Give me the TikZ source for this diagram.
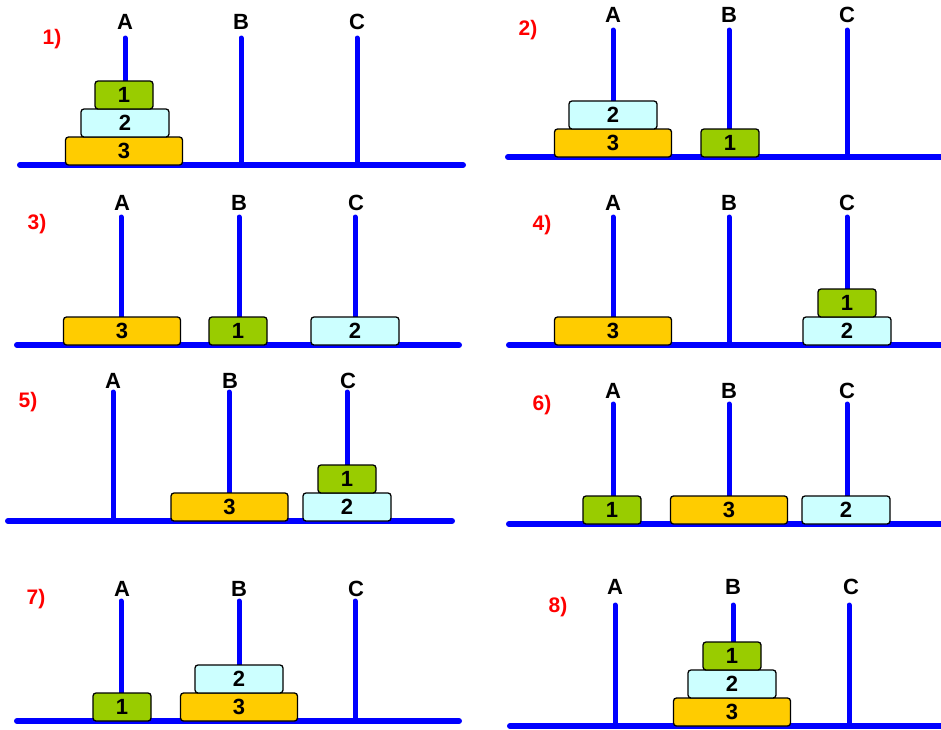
\documentclass[tikz,border=0pt]{standalone}
\usepackage{fontspec}
\setmainfont{Liberation Sans}
\definecolor{pegblue}{HTML}{0000FF}
\definecolor{dgreen}{HTML}{99CC00}
\definecolor{dcyan}{HTML}{CCFFFF}
\definecolor{dorange}{HTML}{FFCC00}
\definecolor{numred}{HTML}{FF0000}
\tikzset{
  baseline/.style={draw=pegblue, line width=6pt, line cap=round},
  pegline/.style={draw=pegblue, line width=5pt, line cap=round},
  peglabel/.style={font=\fontsize{22}{22}\selectfont\bfseries, inner sep=0pt},
  steplabel/.style={font=\fontsize{21}{21}\selectfont\bfseries, text=numred, inner sep=0pt},
  disk/.style={draw=black, line width=1.3pt, rounded corners=3pt, minimum height=28pt, inner sep=0pt,
    font=\fontsize{22}{22}\selectfont\bfseries},
  diskone/.style={disk, fill=dgreen, minimum width=58pt},
  disktwo/.style={disk, fill=dcyan, minimum width=88pt},
  diskthree/.style={disk, fill=dorange, minimum width=117pt}
}
\begin{document}
\begin{tikzpicture}[x=1pt, y=-1pt]
\useasboundingbox (0,0) rectangle (941,729);
% ---------------- Panel 1
\coordinate (p1L) at (20,165); \coordinate (p1R) at (463,165);
\coordinate (p1At) at (125,38); \coordinate (p1Ab) at (125,165);
\coordinate (p1Bt) at (241,38); \coordinate (p1Bb) at (241,165);
\coordinate (p1Ct) at (357,38); \coordinate (p1Cb) at (357,165);
\draw[baseline] (p1L) -- (p1R);
\draw[pegline] (p1At) -- (p1Ab); \draw[pegline] (p1Bt) -- (p1Bb); \draw[pegline] (p1Ct) -- (p1Cb);
\node[peglabel] (p1a) at (125,22) {A};
\node[peglabel] (p1b) at (241,22) {B};
\node[peglabel] (p1c) at (357,22) {C};
\node[steplabel] (p1n) at (52,39) {1)};
\node[diskthree] (p1d3) at (124,151) {3};
\node[disktwo] (p1d2) at (125,123) {2};
\node[diskone] (p1d1) at (124,95) {1};
% ---------------- Panel 2
\coordinate (p2L) at (508,157); \coordinate (p2R) at (945,157);
\coordinate (p2At) at (613,30); \coordinate (p2Ab) at (613,157);
\coordinate (p2Bt) at (729,30); \coordinate (p2Bb) at (729,157);
\coordinate (p2Ct) at (847,30); \coordinate (p2Cb) at (847,157);
\draw[baseline] (p2L) -- (p2R);
\draw[pegline] (p2At) -- (p2Ab); \draw[pegline] (p2Bt) -- (p2Bb); \draw[pegline] (p2Ct) -- (p2Cb);
\node[peglabel] (p2a) at (613,15) {A};
\node[peglabel] (p2b) at (729,15) {B};
\node[peglabel] (p2c) at (847,15) {C};
\node[steplabel] (p2n) at (528,30) {2)};
\node[diskthree] (p2d3) at (613,143) {3};
\node[disktwo] (p2d2) at (613,115) {2};
\node[diskone] (p2d1) at (730,143) {1};
% ---------------- Panel 3
\coordinate (p3L) at (17,345); \coordinate (p3R) at (459,345);
\coordinate (p3At) at (121,217); \coordinate (p3Ab) at (121,345);
\coordinate (p3Bt) at (239,217); \coordinate (p3Bb) at (239,345);
\coordinate (p3Ct) at (355,217); \coordinate (p3Cb) at (355,345);
\draw[baseline] (p3L) -- (p3R);
\draw[pegline] (p3At) -- (p3Ab); \draw[pegline] (p3Bt) -- (p3Bb); \draw[pegline] (p3Ct) -- (p3Cb);
\node[peglabel] (p3a) at (122,203) {A};
\node[peglabel] (p3b) at (239,203) {B};
\node[peglabel] (p3c) at (356,203) {C};
\node[steplabel] (p3n) at (37,224) {3)};
\node[diskthree] (p3d3) at (122,331) {3};
\node[diskone] (p3d1) at (238,331) {1};
\node[disktwo] (p3d2) at (355,331) {2};
% ---------------- Panel 4
\coordinate (p4L) at (509,345); \coordinate (p4R) at (945,345);
\coordinate (p4At) at (613,217); \coordinate (p4Ab) at (613,345);
\coordinate (p4Bt) at (729,217); \coordinate (p4Bb) at (729,345);
\coordinate (p4Ct) at (847,217); \coordinate (p4Cb) at (847,345);
\draw[baseline] (p4L) -- (p4R);
\draw[pegline] (p4At) -- (p4Ab); \draw[pegline] (p4Bt) -- (p4Bb); \draw[pegline] (p4Ct) -- (p4Cb);
\node[peglabel] (p4a) at (613,203) {A};
\node[peglabel] (p4b) at (729,203) {B};
\node[peglabel] (p4c) at (847,203) {C};
\node[steplabel] (p4n) at (542,225) {4)};
\node[diskthree] (p4d3) at (613,331) {3};
\node[disktwo] (p4d2) at (847,331) {2};
\node[diskone] (p4d1) at (847,303) {1};
% ---------------- Panel 5
\coordinate (p5L) at (8,521); \coordinate (p5R) at (452,521);
\coordinate (p5At) at (113,392); \coordinate (p5Ab) at (113,521);
\coordinate (p5Bt) at (229,392); \coordinate (p5Bb) at (229,521);
\coordinate (p5Ct) at (347,392); \coordinate (p5Cb) at (347,521);
\draw[baseline] (p5L) -- (p5R);
\draw[pegline] (p5At) -- (p5Ab); \draw[pegline] (p5Bt) -- (p5Bb); \draw[pegline] (p5Ct) -- (p5Cb);
\node[peglabel] (p5a) at (113,381) {A};
\node[peglabel] (p5b) at (230,381) {B};
\node[peglabel] (p5c) at (348,381) {C};
\node[steplabel] (p5n) at (28,402) {5)};
\node[diskthree] (p5d3) at (229.5,507) {3};
\node[disktwo] (p5d2) at (347,507) {2};
\node[diskone] (p5d1) at (347,479) {1};
% ---------------- Panel 6
\coordinate (p6L) at (509,524); \coordinate (p6R) at (945,524);
\coordinate (p6At) at (613,404); \coordinate (p6Ab) at (613,524);
\coordinate (p6Bt) at (729,404); \coordinate (p6Bb) at (729,524);
\coordinate (p6Ct) at (847,404); \coordinate (p6Cb) at (847,524);
\draw[baseline] (p6L) -- (p6R);
\draw[pegline] (p6At) -- (p6Ab); \draw[pegline] (p6Bt) -- (p6Bb); \draw[pegline] (p6Ct) -- (p6Cb);
\node[peglabel] (p6a) at (613,391) {A};
\node[peglabel] (p6b) at (729,391) {B};
\node[peglabel] (p6c) at (847,391) {C};
\node[steplabel] (p6n) at (542,405) {6)};
\node[diskone] (p6d1) at (612,510) {1};
\node[diskthree] (p6d3) at (729,510) {3};
\node[disktwo] (p6d2) at (846,510) {2};
% ---------------- Panel 7
\coordinate (p7L) at (17,721); \coordinate (p7R) at (459,721);
\coordinate (p7At) at (121,601); \coordinate (p7Ab) at (121,721);
\coordinate (p7Bt) at (239,601); \coordinate (p7Bb) at (239,721);
\coordinate (p7Ct) at (355,601); \coordinate (p7Cb) at (355,721);
\draw[baseline] (p7L) -- (p7R);
\draw[pegline] (p7At) -- (p7Ab); \draw[pegline] (p7Bt) -- (p7Bb); \draw[pegline] (p7Ct) -- (p7Cb);
\node[peglabel] (p7a) at (122,589) {A};
\node[peglabel] (p7b) at (239,589) {B};
\node[peglabel] (p7c) at (356,589) {C};
\node[steplabel] (p7n) at (36,599) {7)};
\node[diskone] (p7d1) at (122,707) {1};
\node[diskthree] (p7d3) at (239,707) {3};
\node[disktwo] (p7d2) at (239,679) {2};
% ---------------- Panel 8
\coordinate (p8L) at (510,726); \coordinate (p8R) at (945,726);
\coordinate (p8At) at (615,605); \coordinate (p8Ab) at (615,726);
\coordinate (p8Bt) at (733,605); \coordinate (p8Bb) at (733,726);
\coordinate (p8Ct) at (849,605); \coordinate (p8Cb) at (849,726);
\draw[baseline] (p8L) -- (p8R);
\draw[pegline] (p8At) -- (p8Ab); \draw[pegline] (p8Bt) -- (p8Bb); \draw[pegline] (p8Ct) -- (p8Cb);
\node[peglabel] (p8a) at (615,587) {A};
\node[peglabel] (p8b) at (733,587) {B};
\node[peglabel] (p8c) at (851,587) {C};
\node[steplabel] (p8n) at (558,607) {8)};
\node[diskthree] (p8d3) at (732,712) {3};
\node[disktwo] (p8d2) at (732,684) {2};
\node[diskone] (p8d1) at (732,656) {1};
\end{tikzpicture}
\end{document}
